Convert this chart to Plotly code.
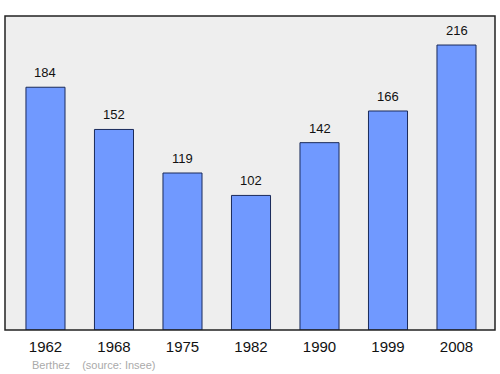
import plotly.graph_objects as go

years = ["1962", "1968", "1975", "1982", "1990", "1999", "2008"]
population = [184, 152, 119, 102, 142, 166, 216]

xpos = list(range(len(years)))

fig = go.Figure()
fig.add_trace(go.Bar(
    x=xpos, y=population, width=0.57,
    marker=dict(color="#7099ff", line=dict(color="#1a2a5a", width=1)),
    hoverinfo="skip",
))

for xi, v in zip(xpos, population):
    fig.add_annotation(x=xi, y=v, text=str(v), showarrow=False,
                       yanchor="bottom", yshift=5,
                       font=dict(family="Liberation Sans, Arial", size=13, color="#111"))

fig.add_annotation(xref="paper", yref="paper", x=0.05, y=-0.112, xanchor="left", yanchor="middle",
                   text="Berthez &nbsp;&nbsp; (source: Insee)", showarrow=False,
                   font=dict(family="Liberation Sans, Arial", size=11, color="#aaaaaa"))

fig.add_shape(type="rect", xref="paper", yref="paper", x0=0, y0=0, x1=1, y1=1,
              line=dict(color="#222", width=1.5), layer="above")

fig.update_layout(
    width=500, height=374,
    margin=dict(l=5, r=5, t=16, b=44),
    paper_bgcolor="white", plot_bgcolor="#eeeeee",
    showlegend=False,
    xaxis=dict(range=[-0.591, 6.562], tickmode="array", tickvals=xpos, ticktext=years,
               showgrid=False, zeroline=False, ticks="outside", ticklen=3,
               tickcolor="rgba(0,0,0,0)", fixedrange=True,
               tickfont=dict(family="Liberation Sans, Arial", size=15, color="#111")),
    yaxis=dict(range=[0, 238], showgrid=False, zeroline=False, showticklabels=False,
               ticks="", fixedrange=True),
)

fig.write_html("out.html")
